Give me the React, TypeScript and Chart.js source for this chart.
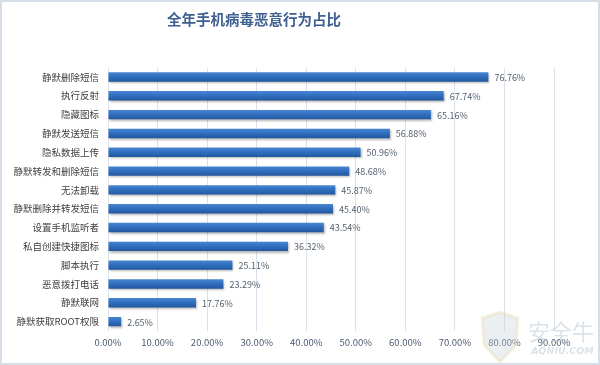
import React, { useEffect, useRef } from "react";
import { Chart, registerables } from "chart.js";

Chart.register(...registerables);

const titleText = "全年手机病毒恶意行为占比";
const categories = [
  "静默删除短信",
  "执行反射",
  "隐藏图标",
  "静默发送短信",
  "隐私数据上传",
  "静默转发和删除短信",
  "无法卸载",
  "静默删除并转发短信",
  "设置手机监听者",
  "私自创建快捷图标",
  "脚本执行",
  "恶意拨打电话",
  "静默联网",
  "静默获取ROOT权限",
];
const values = [76.76, 67.74, 65.16, 56.88, 50.96, 48.68, 45.87, 45.4, 43.54, 36.32, 25.11, 23.29, 17.76, 2.65];
const axisMax = 90;
const axisStep = 10;

const CJK = '"Noto Sans CJK SC", "Microsoft YaHei", sans-serif';

export default function App() {
  const ref = useRef<HTMLCanvasElement | null>(null);

  useEffect(() => {
    document.body.style.margin = "0";
    const canvas = ref.current;
    if (!canvas) return;

    const valueLabels = {
      id: "valueLabels",
      afterDatasetsDraw(chart: any) {
        const ctx = chart.ctx;
        const meta = chart.getDatasetMeta(0);
        ctx.save();
        ctx.font = `9px ${CJK}`;
        ctx.fillStyle = "#55606E";
        ctx.textAlign = "left";
        ctx.textBaseline = "middle";
        meta.data.forEach((bar: any, i: number) => {
          ctx.fillText(values[i].toFixed(2) + "%", bar.x + 6, bar.y + 0.5);
        });
        ctx.restore();
      },
    };

    const shadow = {
      id: "barShadow",
      beforeDatasetsDraw(chart: any) {
        const ctx = chart.ctx;
        ctx.save();
        ctx.shadowColor = "rgba(0,0,0,0.28)";
        ctx.shadowBlur = 2;
        ctx.shadowOffsetX = 1;
        ctx.shadowOffsetY = 1.5;
      },
      afterDatasetsDraw(chart: any) {
        chart.ctx.restore();
      },
    };

    const frame = {
      id: "frame",
      afterDraw(chart: any) {
        const ctx = chart.ctx;
        // title
        ctx.save();
        ctx.font = `bold 14.5px ${CJK}`;
        ctx.fillStyle = "#3F6090";
        ctx.textAlign = "center";
        ctx.textBaseline = "middle";
        ctx.fillText(titleText, 254, 19.5);
        ctx.restore();
        // watermark
        ctx.save();
        ctx.globalAlpha = 0.35;
        ctx.beginPath();
        ctx.moveTo(482, 318);
        ctx.lineTo(500, 312);
        ctx.lineTo(518, 318);
        ctx.lineTo(516, 345);
        ctx.lineTo(500, 362);
        ctx.lineTo(484, 345);
        ctx.closePath();
        ctx.fillStyle = "#C9D2D8";
        ctx.fill();
        ctx.strokeStyle = "#E8D9A8";
        ctx.lineWidth = 3;
        ctx.stroke();
        ctx.globalAlpha = 0.5;
        ctx.fillStyle = "#B9C7D2";
        ctx.font = `22px ${CJK}`;
        ctx.textAlign = "left";
        ctx.textBaseline = "middle";
        ctx.fillText("安全牛", 528, 332);
        ctx.font = `italic bold 9.5px "DejaVu Sans", sans-serif`;
        ctx.fillText("AQNIU.COM", 531, 352);
        ctx.restore();
        // border
        ctx.save();
        ctx.strokeStyle = "#D6DEE7";
        ctx.lineWidth = 2;
        ctx.strokeRect(1, 1, 598, 363);
        ctx.restore();
      },
    };

    const chart = new Chart(canvas, {
      type: "bar",
      data: {
        labels: categories,
        datasets: [
          {
            data: values,
            barPercentage: 0.5,
            categoryPercentage: 1,
            backgroundColor: (c: any) => {
              const ch = c.chart;
              const y = ch.scales && ch.scales.y;
              if (!ch.chartArea || !y || c.dataIndex === undefined) return "#2F6DBE";
              const py = y.getPixelForValue(c.dataIndex);
              const g = ch.ctx.createLinearGradient(0, py - 5, 0, py + 5);
              g.addColorStop(0, "#4A88D4");
              g.addColorStop(0.5, "#2F6DBE");
              g.addColorStop(1, "#22569C");
              return g;
            },
            borderWidth: 0,
          },
        ],
      },
      options: {
        indexAxis: "y",
        responsive: false,
        animation: false,
        layout: { padding: { left: 0, right: 46, top: 67.6, bottom: 0 } },
        plugins: {
          legend: { display: false },
          tooltip: { enabled: false },
          title: { display: false },
        },
        scales: {
          x: {
            min: 0,
            max: axisMax,
            afterFit: (s: any) => {
              s.height = 34;
            },
            ticks: {
              stepSize: axisStep,
              color: "#4A5A70",
              font: { family: CJK, size: 9.5 },
              padding: 6,
              callback: (v: any) => Number(v).toFixed(2) + "%",
            },
            grid: { color: "#D9E1EB", drawTicks: false },
            border: { display: false },
          },
          y: {
            afterFit: (s: any) => {
              s.width = 108;
            },
            ticks: {
              color: "#404040",
              font: { family: CJK, size: 9.5 },
              padding: 9,
            },
            grid: { display: false, drawTicks: false },
            border: { display: false },
          },
        },
      },
      plugins: [shadow, valueLabels, frame],
    } as any);

    return () => chart.destroy();
  }, []);

  return (
    <div style={{ width: 600, height: 365, background: "#fff" }}>
      <canvas ref={ref} width={600} height={365} />
    </div>
  );
}
